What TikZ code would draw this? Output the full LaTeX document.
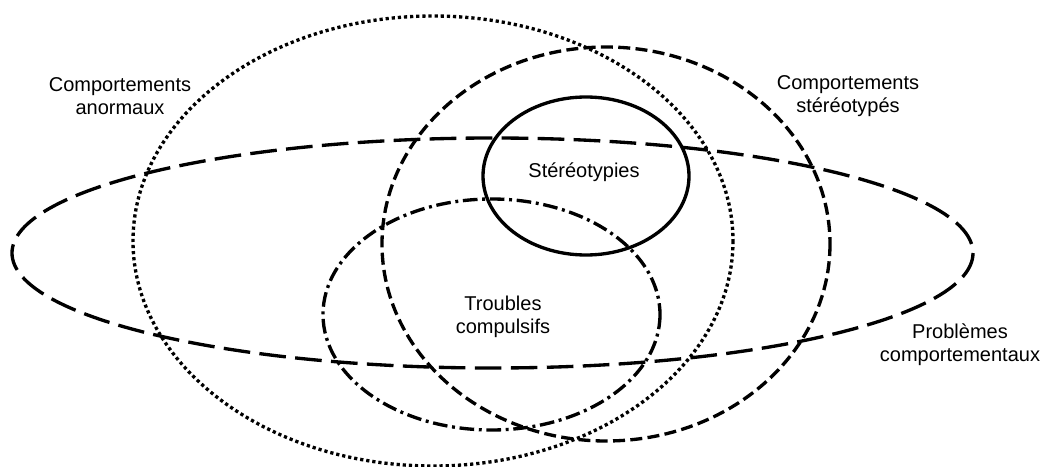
\documentclass[tikz,border=0pt]{standalone}
\usepackage{fontspec}
\setmainfont{Liberation Sans}
\begin{document}
\begin{tikzpicture}[x=0.75pt,y=-0.75pt]
        \useasboundingbox (0,0) rectangle (1047,467);
        \scoped{
                \tikzstyle{every path}=[line width=2.5pt];
                \draw[dash pattern=on 2.4pt off 2.2pt] (433,241) ellipse [x radius=300, y radius=225];
                \draw[dash pattern=on 9pt off 4pt] (606,244) ellipse [x radius=224, y radius=197];
                \draw[dash pattern=on 20pt off 7pt] (492.5,253) ellipse [x radius=480.5, y radius=115];
                \draw (586,176) ellipse [x radius=103, y radius=79];
                \draw[dash pattern=on 11pt off 3.5pt on 2.2pt off 3.5pt] (491.5,314.5) ellipse [x radius=168.5, y radius=115.5];
            };
        \scoped{
                \tikzstyle{every node}=[align=center, font=\fontsize{15}{17.25}\selectfont];
                \node (anormaux) at (120,96) {Comportements\\anormaux};
                \node (stereotypes) at (848,96) {Comportements\\stéréotypés};
                \node (stereotypies) at (584,172) {Stéréotypies};
                \node (compulsifs) at (503,317) {Troubles\\compulsifs};
                \node (problemes) at (960,345) {Problèmes\\comportementaux};
            };
    \end{tikzpicture}
\end{document}
